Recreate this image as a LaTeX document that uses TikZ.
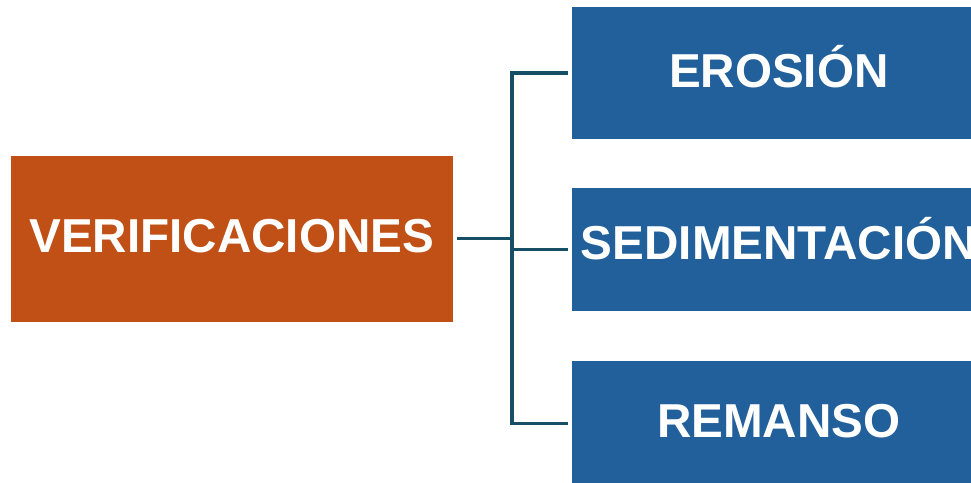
\documentclass[tikz,border=0pt]{standalone}
\usepackage{fontspec}
\setmainfont{Liberation Sans}
\definecolor{naranja}{RGB}{192,80,22}
\definecolor{azul}{RGB}{34,96,155}
\definecolor{petroleo}{RGB}{22,78,102}

\begin{document}
\begin{tikzpicture}
		[
		x=1pt, y=-1pt, font=\fontsize{47.6}{54}\selectfont\bfseries,
		%Voreinstellung fuer Kaesten und Linien
		caja/.style={fill=#1, text=white, inner sep=0pt, outer sep=4pt, text height=34pt, text depth=6pt},
		enlace/.style={draw=petroleo, line width=3.3pt}
		]
		
		%Rahmen
		\useasboundingbox (0,0) rectangle (971,482);
		\clip (0,0) rectangle (971,482);
		
		%Kasten links
		\node[caja=naranja, minimum width=442pt, minimum height=166pt] (verif) at (231.7,238.8) {VERIFICACIONES};
		
		%Kaesten rechts
		\node[caja=azul, minimum width=413pt, minimum height=132.6pt] (erosion) at (778.8,73) {EROSIÓN};
		\node[caja=azul, minimum width=413pt, minimum height=122.7pt, text depth=14pt] (sedim) at (778.8,249.4) {SEDIMENTACIÓN};
		\node[caja=azul, minimum width=413pt, minimum height=125pt] (remanso) at (778.8,423.4) {REMANSO};
		
		%Verzweigung
		\coordinate (gabel) at (512,238.8);
		\draw[enlace] (verif.east) -- (gabel);
		\draw[enlace] (erosion.west) -| (gabel |- remanso.west) -- (remanso.west);
		\draw[enlace] (gabel |- sedim.west) -- (sedim.west);
	\end{tikzpicture}
\end{document}
